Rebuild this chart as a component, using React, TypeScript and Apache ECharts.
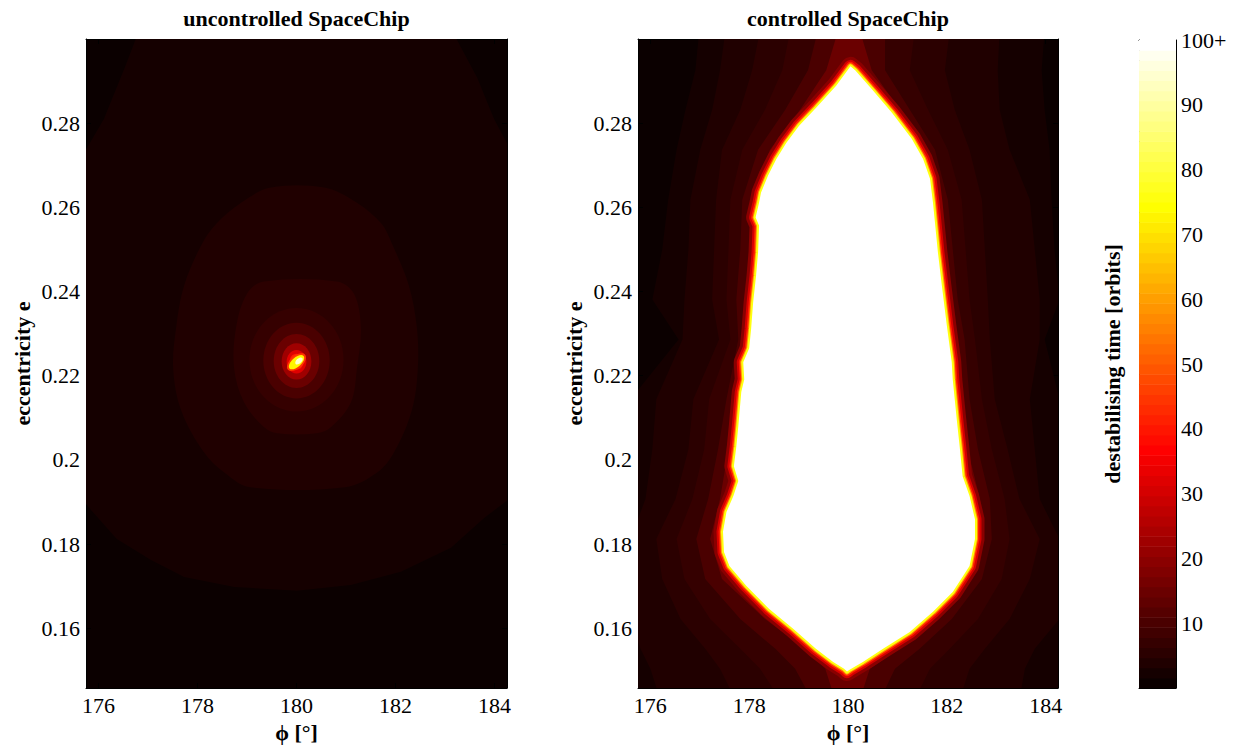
import React, { useEffect, useRef } from "react";
import * as echarts from "echarts";

const FONT = "'Liberation Serif', 'Times New Roman', Times, serif";

// ---------- axes ----------
const phiTicks = [176, 178, 180, 182, 184];
const eTicks = [0.16, 0.18, 0.2, 0.22, 0.24, 0.26, 0.28];
const cbTicks = [10, 20, 30, 40, 50, 60, 70, 80, 90, 100];
const phiMin = 175.75;
const phiMax = 184.25;
const eMin = 0.1458;
const eMax = 0.3;
const cbMin = 0;
const cbMax = 100;

// background destabilising time (orbits) of both maps
const backgroundLevel = 0.8;

// ---------- uncontrolled SpaceChip ----------
// nested iso-contours [phi, e] with their destabilising time
const uncPolyLevels = [2.3, 3.9, 5.5];
const uncOuter: number[][] = [
  [176.82, 0.302], [176.52, 0.2929], [176.11, 0.281], [175.63, 0.2713],
  [175.63, 0.1912], [175.85, 0.1881], [176.37, 0.1812], [177.06, 0.1762],
  [177.73, 0.1722], [178.74, 0.1698], [180.01, 0.1689], [181.1, 0.1703],
  [182.11, 0.1734], [183.12, 0.1791], [183.79, 0.1862], [184.35, 0.1912],
  [184.35, 0.273], [183.99, 0.281], [183.65, 0.2908], [183.14, 0.302],
];
const uncMiddle: number[][] = [
  [179.48, 0.2647], [178.88, 0.2611], [178.39, 0.2562], [178.09, 0.2513],
  [177.73, 0.2414], [177.57, 0.2315], [177.51, 0.2217], [177.67, 0.2118],
  [178.13, 0.2018], [178.54, 0.197], [179.06, 0.1935], [180.98, 0.1935],
  [181.63, 0.197], [181.97, 0.2018], [182.33, 0.2118], [182.45, 0.2217],
  [182.43, 0.2315], [182.27, 0.2414], [181.93, 0.2513], [181.71, 0.2562],
  [181.22, 0.2611], [180.56, 0.2647],
];
const uncInner: number[][] = [
  [179.34, 0.2424], [179.0, 0.2395], [178.78, 0.2315], [178.74, 0.2217],
  [178.94, 0.2137], [179.34, 0.2078], [179.61, 0.2063], [180.41, 0.2063],
  [180.7, 0.2078], [181.1, 0.2137], [181.22, 0.2217], [181.3, 0.2315],
  [181.16, 0.2395], [180.82, 0.2424],
];
const uncPolys = [uncOuter, uncMiddle, uncInner];
const uncPolySmooth = [0, 0.35, 0.35];
// rings around the stable point: [phi, e, radius phi, radius e, time]
const uncRings: number[][] = [
  [180.0, 0.2238, 0.95, 0.0123, 7.0],
  [180.0, 0.2236, 0.67, 0.009, 10.2],
  [180.0, 0.2235, 0.46, 0.0064, 14.8],
  [180.0, 0.2234, 0.3, 0.0043, 22.7],
  [180.0, 0.2233, 0.2, 0.0028, 32],
  [180.0, 0.2233, 0.14, 0.0019, 41],
];
// elongated stable spot: [phi, e, half length, half width, time]
const uncSpot: number[][] = [
  [180.0, 0.2232, 0.23, 0.0015, 45],
  [180.0, 0.2232, 0.19, 0.0011, 72],
  [180.05, 0.2235, 0.09, 0.0006, 95],
];

// ---------- controlled SpaceChip ----------
const ctrlRows = [0.302, 0.2926, 0.2832, 0.2737, 0.2618, 0.25, 0.2381, 0.2286, 0.2144, 0.2025, 0.1907, 0.1812, 0.1717, 0.1622, 0.1551, 0.1504, 0.143];
const ctrlLevels = [2.3, 3.9, 5.5, 7.0, 10.2, 14.8];
const ctrlLeft: number[][] = [
  [176.99, 176.91, 176.71, 176.53, 176.36, 176.24, 176.04, 176.57, 175.6, 175.6, 175.6, 175.6, 175.6, 175.6, 175.6, 175.6, 175.6],
  [177.52, 177.41, 177.25, 177.01, 176.81, 176.77, 176.69, 176.65, 176.12, 176.04, 175.9, 175.6, 175.6, 175.6, 175.8, 176.0, 176.2],
  [178.22, 178.06, 177.82, 177.45, 177.33, 177.29, 177.25, 177.39, 176.87, 176.77, 176.51, 176.12, 176.24, 176.61, 177.11, 177.41, 177.72],
  [178.83, 178.67, 178.32, 177.86, 177.62, 177.58, 177.54, 177.62, 177.19, 177.09, 176.85, 176.53, 176.69, 177.21, 177.82, 178.22, 178.63],
  [179.39, 179.19, 178.73, 178.18, 177.86, 177.82, 177.74, 177.78, 177.54, 177.37, 177.17, 176.93, 177.11, 177.82, 178.53, 178.93, 179.27],
  [179.8, 179.56, 179.03, 178.42, 178.06, 178.02, 177.92, 177.9, 177.7, 177.58, 177.41, 177.21, 177.45, 178.32, 179.13, 179.54, 179.74],
];
const ctrlRight: number[][] = [
  [183.98, 183.92, 183.98, 184.08, 184.12, 184.18, 184.28, 183.98, 184.28, 184.28, 184.28, 184.28, 184.28, 184.28, 184.28, 184.28, 184.28],
  [183.07, 183.03, 183.07, 183.27, 183.68, 183.78, 183.88, 183.88, 183.68, 183.78, 183.88, 184.28, 184.28, 184.28, 183.78, 183.58, 183.47],
  [182.06, 181.96, 182.16, 182.46, 182.71, 182.77, 182.83, 182.87, 182.97, 183.23, 183.47, 183.88, 183.68, 183.27, 182.77, 182.46, 182.26],
  [181.35, 181.25, 181.62, 182.02, 182.3, 182.38, 182.46, 182.57, 182.71, 182.91, 183.17, 183.27, 183.11, 182.63, 182.06, 181.66, 181.35],
  [180.75, 180.75, 181.25, 181.76, 182.02, 182.12, 182.22, 182.36, 182.46, 182.63, 182.87, 182.91, 182.71, 182.1, 181.45, 180.95, 180.65],
  [180.24, 180.48, 181.05, 181.6, 181.86, 181.96, 182.06, 182.2, 182.3, 182.42, 182.67, 182.73, 182.42, 181.76, 181.05, 180.44, 180.24],
];
// boundary of the stable (100+ orbits) region
const ctrlCore: number[][] = [
  [180.05, 0.2935], [179.76, 0.2889], [179.35, 0.2836], [179.01, 0.2794],
  [178.75, 0.2753], [178.55, 0.2715], [178.38, 0.2675], [178.24, 0.2635],
  [178.2, 0.2611], [178.13, 0.2576], [178.2, 0.2557], [178.18, 0.2493],
  [178.14, 0.2438], [178.08, 0.2374], [178.04, 0.2312], [178.0, 0.2265],
  [177.88, 0.2232], [177.9, 0.2191], [177.84, 0.2161], [177.78, 0.208],
  [177.74, 0.2032], [177.69, 0.1985], [177.78, 0.195], [177.68, 0.1914],
  [177.54, 0.1876], [177.47, 0.1829], [177.49, 0.1781], [177.6, 0.1748],
  [177.94, 0.1701], [178.4, 0.1646], [178.89, 0.1599], [179.35, 0.1551],
  [179.7, 0.152], [179.92, 0.1504], [179.98, 0.1497], [180.04, 0.1502],
  [180.3, 0.152], [180.71, 0.1551], [181.25, 0.1591], [181.72, 0.1639],
  [182.12, 0.1686], [182.46, 0.1748], [182.57, 0.1812], [182.57, 0.1859],
  [182.46, 0.1914], [182.32, 0.1961], [182.26, 0.2032], [182.2, 0.2097],
  [182.12, 0.2191], [182.1, 0.2232], [182.0, 0.2319], [181.9, 0.2414],
  [181.82, 0.2493], [181.76, 0.2564], [181.72, 0.2611], [181.66, 0.2668],
  [181.52, 0.2715], [181.29, 0.2763], [180.89, 0.2825], [180.48, 0.2881],
  [180.15, 0.2925],
];
const ctrlCoreLevel = 100;
// thin transition rim just outside the stable region
const ctrlRimLevels = [19, 30, 42, 58, 75];
const ctrlRimWidths = [19, 13, 9, 6, 4];

// colour bar steps (64-entry colormap)
const cbSteps = Array.from({ length: 64 }, (_, i) => i);

function hot(v: number): string {
  const idx = Math.max(0, Math.min(63, Math.floor((v / 100) * 64)));
  const n = idx + 1;
  const r = Math.min(1, n / 24);
  const g = Math.max(0, Math.min(1, (n - 24) / 24));
  const b = Math.max(0, Math.min(1, (n - 48) / 16));
  const h = (x: number) => Math.round(x * 255).toString(16).padStart(2, "0");
  return "#" + h(r) + h(g) + h(b);
}

const labelStyle = { color: "#000", fontFamily: FONT, fontSize: 22 };
const nameStyle = { color: "#000", fontFamily: FONT, fontSize: 22, fontWeight: "bold" as const };
const lineStyle = { color: "#000", width: 1 };

function xAxes(gridIndex: number) {
  return [
    {
      type: "value", gridIndex, min: phiMin, max: phiMax, position: "bottom",
      axisLine: { show: true, onZero: false, lineStyle },
      axisTick: { show: true, inside: true, length: 5, customValues: phiTicks, lineStyle },
      axisLabel: { show: true, customValues: phiTicks, margin: 6, ...labelStyle, formatter: (v: number) => String(v) },
      splitLine: { show: false },
      name: "\u03D5 [\u00B0]", nameLocation: "middle", nameGap: 33, nameTextStyle: nameStyle,
    },
    {
      type: "value", gridIndex, min: phiMin, max: phiMax, position: "top",
      axisLine: { show: true, onZero: false, lineStyle },
      axisTick: { show: true, inside: true, length: 5, customValues: phiTicks, lineStyle },
      axisLabel: { show: false },
      splitLine: { show: false },
    },
  ];
}
function yAxes(gridIndex: number) {
  return [
    {
      type: "value", gridIndex, min: eMin, max: eMax, position: "left",
      axisLine: { show: true, onZero: false, lineStyle },
      axisTick: { show: true, inside: true, length: 5, customValues: eTicks, lineStyle },
      axisLabel: {
        show: true, customValues: eTicks, margin: 6, ...labelStyle,
        formatter: (v: number) => String(parseFloat(v.toFixed(2))),
      },
      splitLine: { show: false },
      name: "eccentricity e", nameLocation: "middle", nameGap: 53, nameRotate: 90, nameTextStyle: nameStyle,
    },
    {
      type: "value", gridIndex, min: eMin, max: eMax, position: "right",
      axisLine: { show: true, onZero: false, lineStyle },
      axisTick: { show: true, inside: true, length: 5, customValues: eTicks, lineStyle },
      axisLabel: { show: false },
      splitLine: { show: false },
    },
  ];
}

export default function App() {
  const ref = useRef<HTMLDivElement>(null);
  useEffect(() => {
    if (!ref.current) return;
    const chart = echarts.init(ref.current, undefined, { renderer: "svg" });
    const option: any = {
      animation: false,
      backgroundColor: "#fff",
      grid: [
        { left: 86, top: 39, width: 421, height: 649, show: true, backgroundColor: hot(backgroundLevel), borderWidth: 0 },
        { left: 638, top: 39, width: 420, height: 649, show: true, backgroundColor: hot(backgroundLevel), borderWidth: 0 },
        { left: 1139, top: 40, width: 37, height: 648, show: false },
      ],
      xAxis: [
        ...xAxes(0),
        ...xAxes(1),
        {
          type: "value", gridIndex: 2, min: 0, max: 1, position: "bottom",
          axisLine: { show: true, onZero: false, lineStyle }, axisTick: { show: false }, axisLabel: { show: false }, splitLine: { show: false },
        },
        {
          type: "value", gridIndex: 2, min: 0, max: 1, position: "top",
          axisLine: { show: true, onZero: false, lineStyle }, axisTick: { show: false }, axisLabel: { show: false }, splitLine: { show: false },
        },
      ],
      yAxis: [
        ...yAxes(0),
        ...yAxes(1),
        {
          type: "value", gridIndex: 2, min: cbMin, max: cbMax, position: "right",
          axisLine: { show: true, onZero: false, lineStyle },
          axisTick: { show: true, inside: true, length: 5, customValues: cbTicks, lineStyle },
          axisLabel: {
            show: true, customValues: cbTicks, margin: 5, ...labelStyle,
            formatter: (v: number) => (v === 100 ? "100+" : String(v)),
          },
          splitLine: { show: false },
        },
        {
          type: "value", gridIndex: 2, min: cbMin, max: cbMax, position: "left",
          axisLine: { show: true, onZero: false, lineStyle },
          axisTick: { show: true, inside: true, length: 5, customValues: cbTicks, lineStyle },
          axisLabel: { show: false },
          splitLine: { show: false },
          name: "destabilising time [orbits]", nameLocation: "middle", nameGap: 16, nameRotate: 90, nameTextStyle: nameStyle,
        },
      ],
      series: [
        {
          type: "custom", xAxisIndex: 0, yAxisIndex: 0, clip: true,
          data: uncPolys.map((p, i) => [p[0][0], p[0][1], uncPolyLevels[i]]),
          renderItem: (params: any, api: any) => {
            const i = params.dataIndex;
            return {
              type: "polygon", z2: i,
              shape: { points: uncPolys[i].map((p) => api.coord(p)), smooth: uncPolySmooth[i] },
              style: { fill: hot(uncPolyLevels[i]) },
            };
          },
        },
        {
          type: "custom", xAxisIndex: 0, yAxisIndex: 0, clip: true,
          data: uncRings,
          renderItem: (params: any, api: any) => {
            const c = api.coord([api.value(0), api.value(1)]);
            const s = api.size([api.value(2), api.value(3)], [api.value(0), api.value(1)]);
            return {
              type: "ellipse", z2: 10 + params.dataIndex,
              shape: { cx: c[0], cy: c[1], rx: s[0], ry: s[1] },
              style: { fill: hot(api.value(4)) },
            };
          },
        },
        {
          type: "custom", xAxisIndex: 0, yAxisIndex: 0, clip: true,
          data: uncSpot,
          renderItem: (params: any, api: any) => {
            const c = api.coord([api.value(0), api.value(1)]);
            const s = api.size([api.value(2), api.value(3)], [api.value(0), api.value(1)]);
            return {
              type: "ellipse", z2: 30 + params.dataIndex, x: c[0], y: c[1], rotation: 0.72,
              shape: { cx: 0, cy: 0, rx: s[0], ry: s[1] },
              style: { fill: hot(api.value(4)) },
            };
          },
        },
        {
          type: "custom", xAxisIndex: 2, yAxisIndex: 2, clip: true,
          data: ctrlLevels.map((v, i) => [ctrlLeft[i][0], ctrlRows[0], v]),
          renderItem: (params: any, api: any) => {
            const i = params.dataIndex;
            const pts: number[][] = [];
            for (let k = 0; k < ctrlRows.length; k++) pts.push(api.coord([ctrlLeft[i][k], ctrlRows[k]]));
            for (let k = ctrlRows.length - 1; k >= 0; k--) pts.push(api.coord([ctrlRight[i][k], ctrlRows[k]]));
            return {
              type: "polygon", z2: i,
              shape: { points: pts },
              style: { fill: hot(ctrlLevels[i]) },
            };
          },
        },
        {
          type: "custom", xAxisIndex: 2, yAxisIndex: 2, clip: true,
          data: ctrlRimLevels.map((v) => [ctrlCore[0][0], ctrlCore[0][1], v]),
          renderItem: (params: any, api: any) => {
            const i = params.dataIndex;
            return {
              type: "polygon", z2: 10 + i,
              shape: { points: ctrlCore.map((p) => api.coord(p)) },
              style: { fill: "none", stroke: hot(ctrlRimLevels[i]), lineWidth: ctrlRimWidths[i], lineJoin: "round" },
            };
          },
        },
        {
          type: "custom", xAxisIndex: 2, yAxisIndex: 2, clip: true,
          data: [[ctrlCore[0][0], ctrlCore[0][1], ctrlCoreLevel]],
          renderItem: (params: any, api: any) => ({
            type: "polygon", z2: 30,
            shape: { points: ctrlCore.map((p) => api.coord(p)) },
            style: { fill: hot(ctrlCoreLevel) },
          }),
        },
        {
          type: "custom", xAxisIndex: 4, yAxisIndex: 4, clip: true,
          data: cbSteps.map((i) => [0, (i * (cbMax - cbMin)) / 64, i]),
          renderItem: (params: any, api: any) => {
            const i = params.dataIndex;
            const lo = (i * (cbMax - cbMin)) / 64;
            const hi = ((i + 1) * (cbMax - cbMin)) / 64;
            const p0 = api.coord([0, hi]);
            const p1 = api.coord([1, lo]);
            return {
              type: "rect",
              shape: { x: p0[0], y: p0[1], width: p1[0] - p0[0], height: p1[1] - p0[1] + 0.5 },
              style: { fill: hot(lo + 0.01) },
            };
          },
        },
      ],
      graphic: [
        {
          type: "text", x: 296.5, y: 18,
          style: { text: "uncontrolled SpaceChip", fill: "#000", fontFamily: FONT, fontSize: 22, fontWeight: "bold", align: "center", verticalAlign: "middle" },
        },
        {
          type: "text", x: 848, y: 18,
          style: { text: "controlled SpaceChip", fill: "#000", fontFamily: FONT, fontSize: 22, fontWeight: "bold", align: "center", verticalAlign: "middle" },
        },
      ],
    };
    chart.setOption(option);
    return () => chart.dispose();
  }, []);
  return <div ref={ref} style={{ position: "fixed", left: 0, top: 0, width: 1236, height: 750, background: "#fff" }} />;
}
